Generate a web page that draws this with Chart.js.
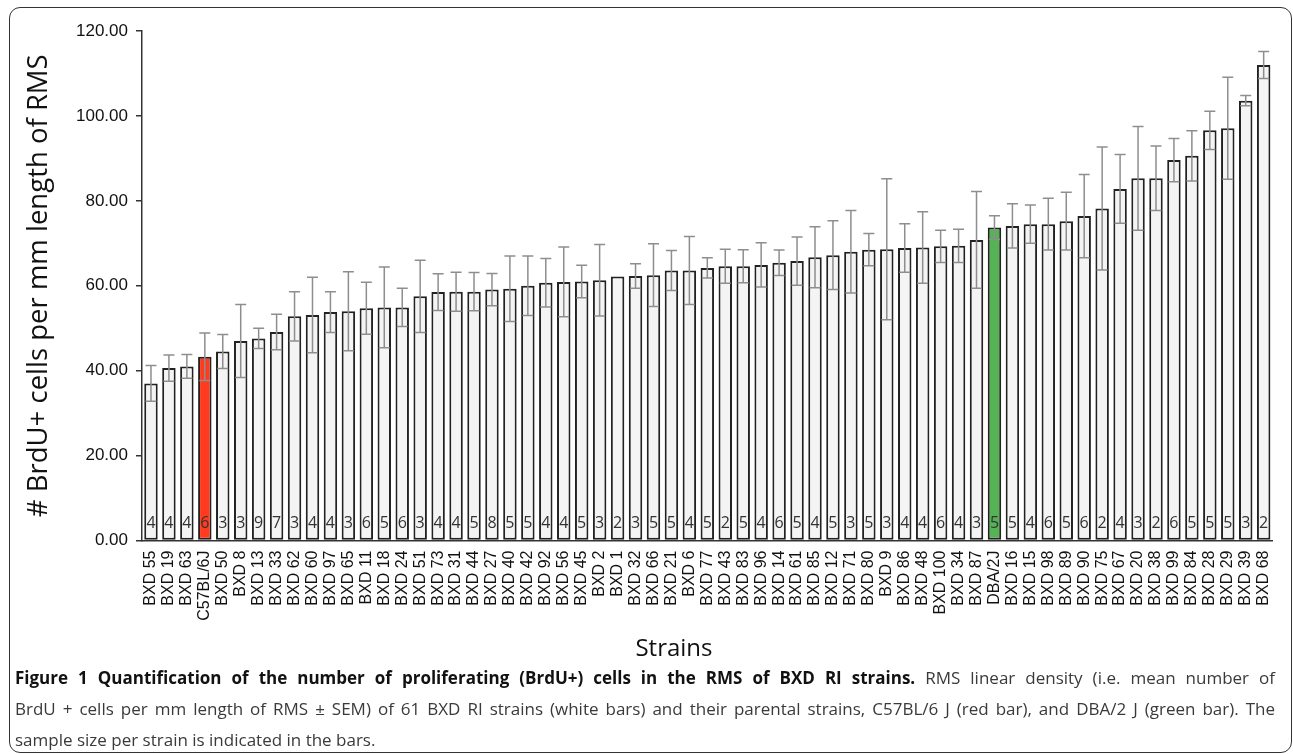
<!DOCTYPE html>
<html>
<head>
<meta charset="utf-8">
<script src="https://cdn.jsdelivr.net/npm/chart.js@4.4.1/dist/chart.umd.min.js"></script>
<style>
  html, body { margin: 0; padding: 0; background: #fff; }
  body { width: 1293px; height: 754px; position: relative; overflow: hidden; }
  #frame { position: absolute; left: 9px; top: 7px; width: 1283px; height: 746px; box-sizing: border-box;
           border: 1.5px solid #333; border-radius: 11px; }
  #c { position: absolute; left: 0; top: 0; }
  #xtitle { position: absolute; left: 574px; top: 632px; width: 200px; text-align: center;
            font: 24px "Open Sans", sans-serif; line-height: 30px; color: #111; }
  #caption { position: absolute; left: 15px; top: 662px; width: 1260px; font-family: "Open Sans", sans-serif;
             font-size: 17px; color: #3a3a3a; }
  #caption .ln { white-space: nowrap; height: 31px; line-height: 31px; }
  #caption .j { text-align: justify; text-align-last: justify; }
  #caption b { color: #111; font-weight: 700; }
</style>
</head>
<body>
<div id="frame"></div>
<canvas id="c" width="1293" height="680"></canvas>
<div id="xtitle">Strains</div>
<div id="caption">
  <div class="ln j"><b>Figure 1 Quantification of the number of proliferating (BrdU+) cells in the RMS of BXD RI strains.</b> RMS linear density (i.e. mean number of</div>
  <div class="ln j">BrdU + cells per mm length of RMS ± SEM) of 61 BXD RI strains (white bars) and their parental strains, C57BL/6 J (red bar), and DBA/2 J (green bar). The</div>
  <div class="ln">sample size per strain is indicated in the bars.</div>
</div>
<script>
// ---- data ----
const strains = ["BXD 55","BXD 19","BXD 63","C57BL/6J","BXD 50","BXD 8","BXD 13","BXD 33","BXD 62","BXD 60",
  "BXD 97","BXD 65","BXD 11","BXD 18","BXD 24","BXD 51","BXD 73","BXD 31","BXD 44","BXD 27",
  "BXD 40","BXD 42","BXD 92","BXD 56","BXD 45","BXD 2","BXD 1","BXD 32","BXD 66","BXD 21",
  "BXD 6","BXD 77","BXD 43","BXD 83","BXD 96","BXD 14","BXD 61","BXD 85","BXD 12","BXD 71",
  "BXD 80","BXD 9","BXD 86","BXD 48","BXD 100","BXD 34","BXD 87","DBA/2J","BXD 16","BXD 15",
  "BXD 98","BXD 89","BXD 90","BXD 75","BXD 67","BXD 20","BXD 38","BXD 99","BXD 84","BXD 28",
  "BXD 29","BXD 39","BXD 68"];
const means = [37.0,40.6,41.0,43.3,44.5,47.0,47.6,49.1,52.8,53.1,
  53.8,54.0,54.7,54.9,54.9,57.5,58.5,58.6,58.6,59.1,
  59.3,60.0,60.7,60.9,61.0,61.3,62.2,62.3,62.5,63.6,
  63.6,64.2,64.6,64.6,64.9,65.4,65.8,66.7,67.2,68.0,
  68.5,68.6,68.9,69.0,69.3,69.4,70.8,73.7,74.1,74.5,
  74.5,75.2,76.4,78.2,82.8,85.3,85.3,89.6,90.6,96.6,
  97.1,103.6,112.0];
const sems = [4.2,3.1,2.8,5.6,4.0,8.6,2.4,4.2,5.8,8.9,
  4.8,9.3,6.1,9.5,4.5,8.5,4.3,4.6,4.5,3.8,
  7.7,7.0,5.7,8.2,3.8,8.4,0,2.9,7.4,4.7,
  8.0,2.4,4.0,3.9,5.2,3.0,5.7,7.2,8.1,9.7,
  3.8,16.6,5.7,8.4,3.8,3.9,11.4,2.8,5.2,4.5,
  6.1,6.8,9.8,14.5,8.1,12.2,7.6,5.1,5.9,4.5,
  12.0,1.2,3.2];
const sampleSizes = [4,4,4,6,3,3,9,7,3,4,
  4,3,6,5,6,3,4,4,5,8,
  5,5,4,4,5,3,2,3,5,5,
  4,5,2,5,4,6,5,4,5,3,
  5,3,4,4,6,4,3,5,5,4,
  6,5,6,2,4,3,2,6,5,5,
  5,3,2];
const yTickValues = [0,20,40,60,80,100,120];
const yTitle = "# BrdU+ cells per mm length of RMS";

const barColors = strains.map(s => s === "C57BL/6J" ? "#ff3a1f" : (s === "DBA/2J" ? "#55b255" : "#f4f4f4"));

const errorAndCounts = {
  id: 'errorAndCounts',
  afterDatasetsDraw(chart) {
    const meta = chart.getDatasetMeta(0);
    const y = chart.scales.y;
    const ctx = chart.ctx;
    ctx.save();
    meta.data.forEach((bar, i) => {
      const x = bar.x, m = means[i], s = sems[i];
      if (s > 0) {
        const yt = y.getPixelForValue(m + s), yb = y.getPixelForValue(m - s);
        ctx.strokeStyle = '#8e8e8e';
        ctx.lineWidth = 1.5;
        ctx.beginPath();
        ctx.moveTo(x, yt); ctx.lineTo(x, yb);
        ctx.moveTo(x - 5.5, yt); ctx.lineTo(x + 5.5, yt);
        ctx.moveTo(x - 5.5, yb); ctx.lineTo(x + 5.5, yb);
        ctx.stroke();
      }
      ctx.fillStyle = '#333';
      ctx.font = '16px "Open Sans", sans-serif';
      ctx.textAlign = 'center';
      ctx.textBaseline = 'middle';
      ctx.fillText(String(sampleSizes[i]), x, y.getPixelForValue(0) - 17);
    });
    ctx.restore();
  }
};

new Chart(document.getElementById('c'), {
  type: 'bar',
  data: {
    labels: strains,
    datasets: [{
      data: means,
      backgroundColor: barColors,
      borderColor: '#222',
      borderWidth: 2,
      borderSkipped: false,
      barPercentage: 0.75,
      categoryPercentage: 1.0
    }]
  },
  options: {
    responsive: false,
    animation: false,
    layout: { padding: { left: 14, right: 17, top: 31, bottom: 0 } },
    plugins: { legend: { display: false }, tooltip: { enabled: false } },
    scales: {
      x: {
        grid: { display: false, drawTicks: false },
        border: { display: true, color: '#333', width: 1.5 },
        ticks: { autoSkip: false, maxRotation: 90, minRotation: 90, padding: 10,
                 font: { family: '"Liberation Sans", Arial, sans-serif', size: 16 }, color: '#111' },
        afterFit: s => { s.height = 139.5; }
      },
      y: {
        min: 0, max: 120,
        afterBuildTicks: s => { s.ticks = yTickValues.map(v => ({ value: v })); },
        ticks: { callback: v => Number(v).toFixed(2), padding: 8,
                 font: { family: '"Liberation Sans", Arial, sans-serif', size: 17 }, color: '#111' },
        grid: { display: true, drawOnChartArea: false, drawTicks: true, tickLength: 6, color: '#333', lineWidth: 1.5 },
        border: { display: true, color: '#333', width: 1.5 },
        title: { display: true, text: yTitle, font: { family: '"Open Sans", sans-serif', size: 27.5 }, color: '#111',
                 padding: { top: 9, bottom: 0 } },
        afterFit: s => { s.width = 128; }
      }
    }
  },
  plugins: [errorAndCounts]
});
</script>
</body>
</html>
